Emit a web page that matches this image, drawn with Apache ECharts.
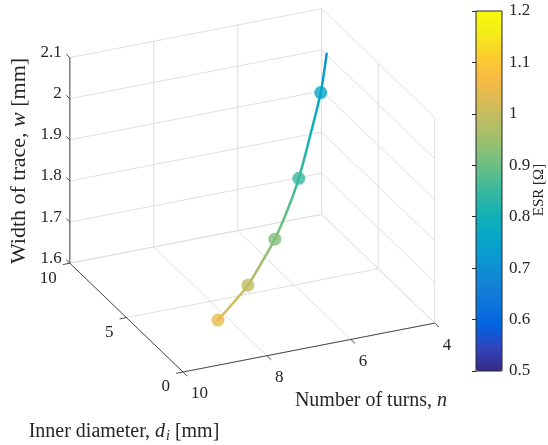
<!DOCTYPE html>
<html>
<head>
<meta charset="utf-8">
<script src="https://cdn.jsdelivr.net/npm/echarts@6/dist/echarts.min.js"></script>
<style>
  html, body { margin: 0; padding: 0; background: #fff; }
  #chart { width: 548px; height: 445px; }
</style>
</head>
<body>
<div id="chart"></div>
<script>
// curve samples: number of turns, inner diameter [mm], trace width [mm], ESR [ohm]
const turns    = [9, 8.5, 8, 7.5, 7, 6.5, 6, 5.5, 5, 4.75];
const diameter = [0.62, 1.15, 1.68, 2.30, 3.01, 3.72, 4.60, 5.40, 6.37, 6.77];
const width    = [1.690, 1.707, 1.727, 1.757, 1.784, 1.828, 1.870, 1.948, 2.012, 2.091];
const esr      = [1.045, 1.02, 0.99, 0.955, 0.92, 0.885, 0.85, 0.80, 0.76, 0.70];
// markers sit on whole turn counts
const markerTurns = [9, 8, 7, 6, 5];

const nTicks = [10, 8, 6, 4];
const dTicks = [0, 5, 10];
const wTicks = [1.6, 1.7, 1.8, 1.9, 2.0, 2.1];
const esrRange = [0.5, 1.2];

// parula
const PARULA = ['#352a87', '#3243ba', '#0363e1', '#0d75dc', '#1485d4', '#0998d1', '#06a7c6', '#15b1b4',
  '#38b99e', '#65be86', '#92bf73', '#b7bd64', '#d9ba56', '#f8ba44', '#fcce2e', '#f5eb18', '#f9fb0e'];

const FONT = '"Liberation Serif", "Times New Roman", serif';
const INK = '#262626';
const GRID_COLOR = '#dfdfdf';
const AXIS_COLOR = '#4a4a4a';

// 3d -> screen projection (orthographic, matlab-like view)
const nLim = [10, 4], dLim = [0, 10], wLim = [1.6, 2.1];
const view = { az: 24.2, el: 25.6 };
const box = [276, 276, 228];
const origin = [183, 372];
const rad = Math.PI / 180;
const ca = Math.cos(view.az * rad), sa = Math.sin(view.az * rad);
const ce = Math.cos(view.el * rad), se = Math.sin(view.el * rad);
const U = [box[0] * ca, -box[0] * sa * se];
const V = [-box[1] * sa, -box[1] * ca * se];
const W = [0, -box[2] * ce];

function project(n, d, w) {
  const u = (n - nLim[0]) / (nLim[1] - nLim[0]);
  const v = (d - dLim[0]) / (dLim[1] - dLim[0]);
  const t = (w - wLim[0]) / (wLim[1] - wLim[0]);
  return [origin[0] + u * U[0] + v * V[0] + t * W[0],
          origin[1] + u * U[1] + v * V[1] + t * W[1]];
}
function unit(a, s) { const l = Math.hypot(a[0], a[1]); return [s * a[0] / l, s * a[1] / l]; }

// back planes grid
const gridSegs = [];
function seg(a, b) { const p = project(...a), q = project(...b); gridSegs.push([p[0], p[1], q[0], q[1]]); }
nTicks.forEach(n => { seg([n, dLim[1], wLim[0]], [n, dLim[1], wLim[1]]); seg([n, dLim[0], wLim[0]], [n, dLim[1], wLim[0]]); });
dTicks.forEach(d => { seg([nLim[1], d, wLim[0]], [nLim[1], d, wLim[1]]); seg([nLim[0], d, wLim[0]], [nLim[1], d, wLim[0]]); });
wTicks.forEach(w => { seg([nLim[0], dLim[1], w], [nLim[1], dLim[1], w]); seg([nLim[1], dLim[0], w], [nLim[1], dLim[1], w]); });

const axisSegs = [
  [[nLim[0], dLim[1], wLim[0]], [nLim[0], dLim[1], wLim[1]]],
  [[nLim[0], dLim[0], wLim[0]], [nLim[0], dLim[1], wLim[0]]],
  [[nLim[0], dLim[0], wLim[0]], [nLim[1], dLim[0], wLim[0]]]
].map(([a, b]) => { const p = project(...a), q = project(...b); return [p[0], p[1], q[0], q[1]]; });

function lineSeries(data, color, z) {
  return {
    type: 'custom', coordinateSystem: 'cartesian2d', silent: true, z: z,
    data: data, encode: { x: [0, 2], y: [1, 3] },
    renderItem: (params, api) => {
      const a = api.coord([api.value(0), api.value(1)]);
      const b = api.coord([api.value(2), api.value(3)]);
      return { type: 'line', shape: { x1: a[0], y1: a[1], x2: b[0], y2: b[1] },
               style: { stroke: color, lineWidth: 1 } };
    }
  };
}

function tickSeries(values, at, dir, off, align) {
  return {
    type: 'custom', coordinateSystem: 'cartesian2d', silent: true, z: 4,
    data: values.map(v => { const p = at(v); return [p[0], p[1], v]; }),
    encode: { x: 0, y: 1 },
    renderItem: (params, api) => {
      const p = api.coord([api.value(0), api.value(1)]);
      return { type: 'group', children: [
        { type: 'line', shape: { x1: p[0], y1: p[1], x2: p[0] + dir[0], y2: p[1] + dir[1] },
          style: { stroke: AXIS_COLOR, lineWidth: 1 } },
        { type: 'text', x: p[0] + off[0], y: p[1] + off[1],
          style: { text: String(api.value(2)), fill: INK, fontSize: 17, fontFamily: FONT,
                   align: align, verticalAlign: 'middle' } }
      ] };
    }
  };
}

const esrColor = v => echarts.color.lerp((v - esrRange[0]) / (esrRange[1] - esrRange[0]), PARULA);
const curveData = turns.map((n, i) => { const p = project(n, diameter[i], width[i]); return [p[0], p[1], esr[i]]; });
const markerData = markerTurns.map(m => curveData[turns.indexOf(m)]);

const chart = echarts.init(document.getElementById('chart'));

const rich = {
  r: { fontSize: 20, fontFamily: FONT, fill: INK },
  i: { fontSize: 20, fontFamily: FONT, fontStyle: 'italic', fill: INK },
  s: { fontSize: 14, fontFamily: FONT, fontStyle: 'italic', fill: INK, padding: [9, 0, 0, 1] },
  zr: { fontSize: 22, fontFamily: FONT, fill: INK },
  zi: { fontSize: 22, fontFamily: FONT, fontStyle: 'italic', fill: INK }
};

chart.setOption({
  animation: false,
  grid: [
    { left: 0, top: 0, width: 548, height: 445, outerBoundsMode: 'none' },
    { left: 476, top: 11, width: 26, height: 360, show: true, borderColor: INK, borderWidth: 1,
      backgroundColor: 'transparent', z: 6, outerBoundsMode: 'none' }
  ],
  xAxis: [
    { type: 'value', gridIndex: 0, min: 0, max: 548, show: false },
    { type: 'value', gridIndex: 1, min: 0, max: 1, show: false }
  ],
  yAxis: [
    { type: 'value', gridIndex: 0, min: 0, max: 445, inverse: true, show: false },
    { type: 'value', gridIndex: 1, position: 'right', min: esrRange[0], max: esrRange[1], interval: 0.1, z: 7,
      axisLine: { show: false }, splitLine: { show: false },
      axisTick: { inside: true, length: 4, lineStyle: { color: INK } },
      axisLabel: { margin: 7, fontSize: 17, fontFamily: FONT, color: INK } }
  ],
  visualMap: {
    type: 'continuous', min: esrRange[0], max: esrRange[1], dimension: 2, seriesIndex: 5,
    left: 476, top: 11, itemWidth: 26, itemHeight: 360, padding: 0,
    calculable: false, hoverLink: false, text: null,
    inRange: { color: PARULA }
  },
  graphic: [
    { type: 'text', x: 19, y: 161, rotation: Math.PI / 2,
      style: { text: '{zr|Width of trace, }{zi|w}{zr| [mm]}', rich: rich, align: 'center', verticalAlign: 'middle' } },
    { type: 'text', x: 124, y: 432,
      style: { text: '{r|Inner diameter, }{i|d}{s|i}{r| [mm]}', rich: rich, align: 'center', verticalAlign: 'middle' } },
    { type: 'text', x: 371, y: 401,
      style: { text: '{r|Number of turns, }{i|n}', rich: rich, align: 'center', verticalAlign: 'middle' } },
    { type: 'text', x: 539, y: 190, rotation: Math.PI / 2,
      style: { text: 'ESR [Ω]', fill: INK, fontSize: 15, fontFamily: FONT, align: 'center', verticalAlign: 'middle' } }
  ],
  series: [
    lineSeries(gridSegs, GRID_COLOR, 1),
    lineSeries(axisSegs, AXIS_COLOR, 3),
    tickSeries(wTicks, w => project(nLim[0], dLim[1], w), unit(V, 5), [-8, -5], 'right'),
    tickSeries(dTicks, d => project(nLim[0], d, wLim[0]), unit([-U[0], -U[1]], 7), [-13, 15], 'right'),
    tickSeries(nTicks, n => project(n, dLim[0], wLim[0]), unit([-V[0], -V[1]], 6), [8, 22], 'left'),
    {
      type: 'scatter', xAxisIndex: 0, yAxisIndex: 0, silent: true, z: 6,
      data: markerData, symbolSize: 13
    },
    {
      type: 'custom', coordinateSystem: 'cartesian2d', silent: true, z: 5,
      data: curveData, encode: { x: 0, y: 1 },
      renderItem: (params, api) => {
        if (params.dataIndexInside !== 0) return null;
        const pts = [], cols = [];
        for (let k = 0; k < params.dataInsideLength; k++) {
          pts.push(api.coord([api.value(0, k), api.value(1, k)]));
          cols.push(esrColor(api.value(2, k)));
        }
        const yb = pts[0][1], yt = pts[pts.length - 1][1];
        const stops = pts.map((p, k) => ({ offset: (yb - p[1]) / (yb - yt), color: cols[k] }));
        return { type: 'polyline', shape: { points: pts, smooth: 0.3 },
                 style: { fill: null, lineWidth: 2.5, lineCap: 'round',
                          stroke: new echarts.graphic.LinearGradient(0, yb, 0, yt, stops, true) } };
      }
    }
  ]
});
</script>
</body>
</html>
